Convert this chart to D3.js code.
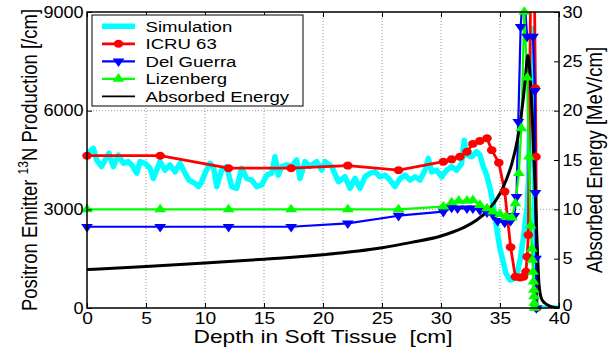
<!DOCTYPE html>
<html>
<head>
<meta charset="utf-8">
<script src="https://cdn.jsdelivr.net/npm/d3@7"></script>
<style>
  body { margin: 0; background: #fff; }
  svg { display: block; }
  text { font-family: "Liberation Sans", Arial, sans-serif; fill: #000; }
</style>
</head>
<body>
<div id="chart"></div>
<script>
// ticks
const depthTicks = [0, 5, 10, 15, 20, 25, 30, 35, 40]
const prodTicks = [0, 3000, 6000, 9000]
const energyTicks = [0, 5, 10, 15, 20, 25, 30]

const seriesNames = ['Simulation', 'ICRU 63', 'Del Guerra', 'Lizenberg', 'Absorbed Energy']

// [depth cm, production /cm]
const simulation = [
  [0,4700],[0.54,4850],[0.82,4500],[1.24,4300],[1.53,4500],[1.86,4700],[2.23,4300],[2.66,4650],
  [3.08,4400],[3.5,4450],[3.79,4350],[4.21,4100],[4.49,4450],[4.92,4400],[5.34,4250],[5.62,3940],
  [5.9,4190],[6.19,4450],[6.61,4190],[7.03,4350],[7.46,4140],[7.88,4400],[8.31,4100],[8.64,3890],
  [9.15,3790],[9.44,3690],[9.72,3840],[10.0,4100],[10.42,4400],[10.7,4300],[10.85,4040],[10.99,3690],
  [11.41,4190],[11.84,4300],[12.26,3690],[12.69,3640],[13.11,4250],[13.53,3940],[13.96,3890],[14.38,3690],
  [14.8,3740],[15.23,4040],[15.65,4100],[15.93,4600],[16.21,4040],[16.5,4300],[16.92,4350],[17.35,4300],
  [17.77,4500],[18.05,3940],[18.47,4450],[18.9,4300],[19.46,4450],[19.89,4190],[20.17,4450],[20.74,4300],
  [21.3,3840],[21.86,3990],[22.29,3640],[22.71,3940],[23.14,3640],[23.56,3990],[23.98,4100],[24.41,4140],
  [24.83,3990],[25.25,4040],[25.68,3890],[26.1,3690],[26.53,3940],[26.95,4040],[27.37,3890],[27.8,3990],
  [28.22,3890],[28.64,4190],[28.93,4550],[29.21,4140],[29.63,4190],[30.06,3990],[30.48,4190],[30.9,4300],
  [31.33,4190],[31.75,4400],[31.97,5100],[32.17,4650],[32.6,4600],[33.02,4750],[33.3,4650],[33.58,4300],
  [33.87,4040],[34.15,3650],[34.4,3200],[34.6,2700],[35.0,1800],[35.5,1060],[35.85,850],[36.1,870],
  [36.4,950],[36.7,1460],[37.0,2170],[37.3,3080],[37.4,3800],[37.6,7000],[37.8,8500],[37.95,3000],
  [38.05,0],[40,0]
]

const icru63 = [
  [0,4630],[6.2,4630],[12.0,4250],[17.3,4250],[22.1,4330],[26.4,4190],[30.2,4450],[30.9,4520],
  [31.6,4600],[32.2,4750],[32.7,4990],[33.3,5080],[33.9,5160],[34.3,4800],[34.9,4420],[35.4,3540],
  [35.9,1850],[36.3,950],[36.7,930],[37.0,950],[37.2,1100],[37.3,1560],[37.4,2220],[37.65,12000],
  [37.85,12000],[38.0,6680],[38.05,4600],[38.12,0]
]

const delGuerra = [
  [0,2470],[6.2,2470],[12.0,2470],[17.3,2470],[22.1,2575],[26.4,2806],[30.2,2928],[30.9,3050],
  [31.4,3030],[32.2,3030],[32.7,3030],[33.3,2980],[33.9,2908],[34.4,2830],[34.8,2650],[35.4,2600],
  [35.9,2650],[36.2,2800],[36.4,3380],[36.55,5660],[36.75,8550],[37.0,9800],[37.3,8250],[37.8,8250],
  [37.95,6600],[38.0,3500],[38.05,1500],[38.08,0]
]

const lizenberg = [
  [0,3000],[6.2,3000],[12.0,3000],[17.3,3000],[22.1,3000],[26.4,3000],[30.2,3080],[30.9,3210],
  [31.5,3260],[32.2,3260],[32.7,3280],[33.3,3130],[33.9,3030],[34.4,2930],[35.0,2850],[35.5,2780],
  [36.0,2750],[36.3,3180],[36.6,4100],[36.8,5460],[37.06,9000],[37.3,7000],[37.45,4600],[37.6,2500],
  [37.7,1800],[37.75,1460],[37.8,1100],[37.83,800],[37.86,550],[37.88,350],[37.9,150],[37.92,0]
]

// [depth cm, energy MeV/cm]
const absorbed = [
  [0,3.9],[5,4.2],[10,4.55],[15,4.95],[20,5.4],[25,6.1],[27.5,6.65],[30,7.3],
  [31,7.7],[32,8.2],[33,8.9],[34,9.9],[35,11.6],[35.5,12.9],[36,14.6],[36.5,17.2],[37,21.5],
  [37.2,24.0],[37.35,25.6],[37.5,24.4],[37.65,21.8],[37.8,17.5],[37.95,12.8],[38.1,8.0],[38.2,5.0],
  [38.3,2.5],[38.5,1.0],[38.8,0.5],[39.2,0.2],[39.6,0.05],[40,0]
]

const colors = ['#00ffff', '#ff0000', '#0000ff', '#00ff00', '#000000']

const pLeft = 87, pRight = 559, pTop = 12, pBottom = 308
const sx = 1.2 // the picture is stretched sideways

const svg = d3.select('#chart').append('svg')
  .attr('width', 613).attr('height', 350)

const x = d3.scaleLinear().domain([0, 40]).range([pLeft, pRight])
const yL = d3.scaleLinear().domain([0, 9000]).range([pBottom, pTop])
const yR = d3.scaleLinear().domain([0, 30]).range([pBottom, pTop])

svg.append('clipPath').attr('id', 'plot')
  .append('rect').attr('x', pLeft).attr('y', pTop)
  .attr('width', pRight - pLeft).attr('height', pBottom - pTop)

// grid
const grid = svg.append('g')
  .attr('stroke', '#999').attr('stroke-width', 1).attr('stroke-dasharray', '1,2')
grid.selectAll('.gx').data(depthTicks.slice(1, -1)).enter().append('line')
  .attr('x1', d => x(d)).attr('x2', d => x(d)).attr('y1', pTop).attr('y2', pBottom)
grid.selectAll('.gy').data(prodTicks.slice(1, -1)).enter().append('line')
  .attr('x1', pLeft).attr('x2', pRight).attr('y1', d => yL(d)).attr('y2', d => yL(d))

const lineL = d3.line().x(d => x(d[0])).y(d => yL(d[1]))
const lineR = d3.line().x(d => x(d[0])).y(d => yR(d[1])).curve(d3.curveMonotoneX)

const plot = svg.append('g').attr('clip-path', 'url(#plot)')
  .attr('fill', 'none').attr('stroke-linejoin', 'round')

plot.append('path').datum(simulation).attr('d', lineL)
  .attr('stroke', colors[0]).attr('stroke-width', 5.5)

const symCircle = d3.symbol(d3.symbolCircle, 50)()
const symTri = d3.symbol(d3.symbolTriangle, 42)()

const withMarkers = [
  {data: icru63, color: colors[1], width: 2.8, sym: symCircle, rot: 0},
  {data: delGuerra, color: colors[2], width: 2.2, sym: symTri, rot: 180},
  {data: lizenberg, color: colors[3], width: 2.2, sym: symTri, rot: 0}
]

withMarkers.forEach(s => {
  plot.append('path').datum(s.data).attr('d', lineL)
    .attr('stroke', s.color).attr('stroke-width', s.width)
  svg.append('g').selectAll('path')
    .data(s.data.filter(d => d[1] <= 9000))
    .enter().append('path')
    .attr('d', s.sym)
    .attr('transform', d => `translate(${x(d[0])},${yL(d[1])}) scale(${sx},1) rotate(${s.rot})`)
    .attr('fill', s.color)
})

plot.append('path').datum(absorbed).attr('d', lineR)
  .attr('stroke', colors[4]).attr('stroke-width', 3)

// frame
svg.append('rect').attr('x', pLeft).attr('y', pTop)
  .attr('width', pRight - pLeft).attr('height', pBottom - pTop)
  .attr('fill', 'none').attr('stroke', '#000').attr('stroke-width', 1.5)

// axes
const fixAxis = (g, size, scaleX) => {
  g.select('.domain').remove()
  g.selectAll('.tick line').attr('stroke', '#000').attr('stroke-width', 1)
  g.selectAll('text').attr('font-size', size)
    .attr('font-family', '"Liberation Sans", Arial, sans-serif')
    .attr('transform', `scale(${scaleX},1)`)
}

svg.append('g').attr('transform', `translate(0,${pBottom})`)
  .call(d3.axisBottom(x).tickValues(depthTicks).tickSizeInner(-5).tickSizeOuter(0).tickPadding(5))
  .call(g => fixAxis(g, 16, sx))

svg.append('g').attr('transform', `translate(0,${pTop})`)
  .call(d3.axisTop(x).tickValues(depthTicks).tickSizeInner(-5).tickSizeOuter(0).tickFormat(''))
  .call(g => fixAxis(g, 16, sx))

svg.append('g').attr('transform', `translate(${pLeft},0)`)
  .call(d3.axisLeft(yL).tickValues(prodTicks).tickSizeInner(-5).tickSizeOuter(0).tickPadding(3).tickFormat(d3.format('d')))
  .call(g => fixAxis(g, 16, 1.13))

svg.append('g').attr('transform', `translate(${pRight},0)`)
  .call(d3.axisRight(yR).tickValues(energyTicks).tickSizeInner(-5).tickSizeOuter(0).tickPadding(3))
  .call(g => fixAxis(g, 16, 1.13))
  .call(g => g.selectAll('.tick text').filter(d => d === 0).attr('y', -2.5))

// axis titles
svg.append('text')
  .attr('transform', `translate(${(pLeft + pRight) / 2},342.5) scale(1.3,1)`)
  .attr('text-anchor', 'middle').attr('font-size', 17.5)
  .style('white-space', 'pre')
  .text('Depth in Soft Tissue  [cm]')

const yt = svg.append('text')
  .attr('transform', `translate(36.5,${(pTop + pBottom) / 2}) scale(${sx},1) rotate(-90)`)
  .attr('text-anchor', 'middle').attr('font-size', 18.5)
yt.append('tspan').text('Positron Emitter ')
yt.append('tspan').attr('font-size', 12).attr('dy', -7).text('13')
yt.append('tspan').attr('dy', 7).text('N Production [/cm]')

svg.append('text')
  .attr('transform', `translate(602,${(pTop + pBottom) / 2}) scale(${sx},1) rotate(-90)`)
  .attr('text-anchor', 'middle').attr('font-size', 18.5)
  .text('Absorbed Energy [MeV/cm]')

// legend
const legend = svg.append('g')
legend.append('rect').attr('x', 92).attr('y', 15).attr('width', 211).attr('height', 91)
  .attr('fill', '#fff').attr('stroke', '#000').attr('stroke-width', 1)

const rowY = [26.3, 43.8, 61.3, 78.8, 96.3]
const legendWidth = [5.5, 2.8, 2.2, 2.2, 1.8]
const legendSym = [null, symCircle, symTri, symTri, null]
const legendRot = [0, 0, 180, 0, 0]

seriesNames.forEach((name, i) => {
  legend.append('line').attr('x1', 102).attr('x2', 135)
    .attr('y1', rowY[i]).attr('y2', rowY[i])
    .attr('stroke', colors[i]).attr('stroke-width', legendWidth[i])
  if (legendSym[i]) {
    legend.append('path').attr('d', legendSym[i]).attr('fill', colors[i])
      .attr('transform', `translate(118.5,${rowY[i]}) scale(${sx},1) rotate(${legendRot[i]})`)
  }
  legend.append('text')
    .attr('transform', `translate(145.5,${rowY[i] + 5.6}) scale(${sx},1)`)
    .attr('font-size', 15.5)
    .text(name)
})
</script>
</body>
</html>
